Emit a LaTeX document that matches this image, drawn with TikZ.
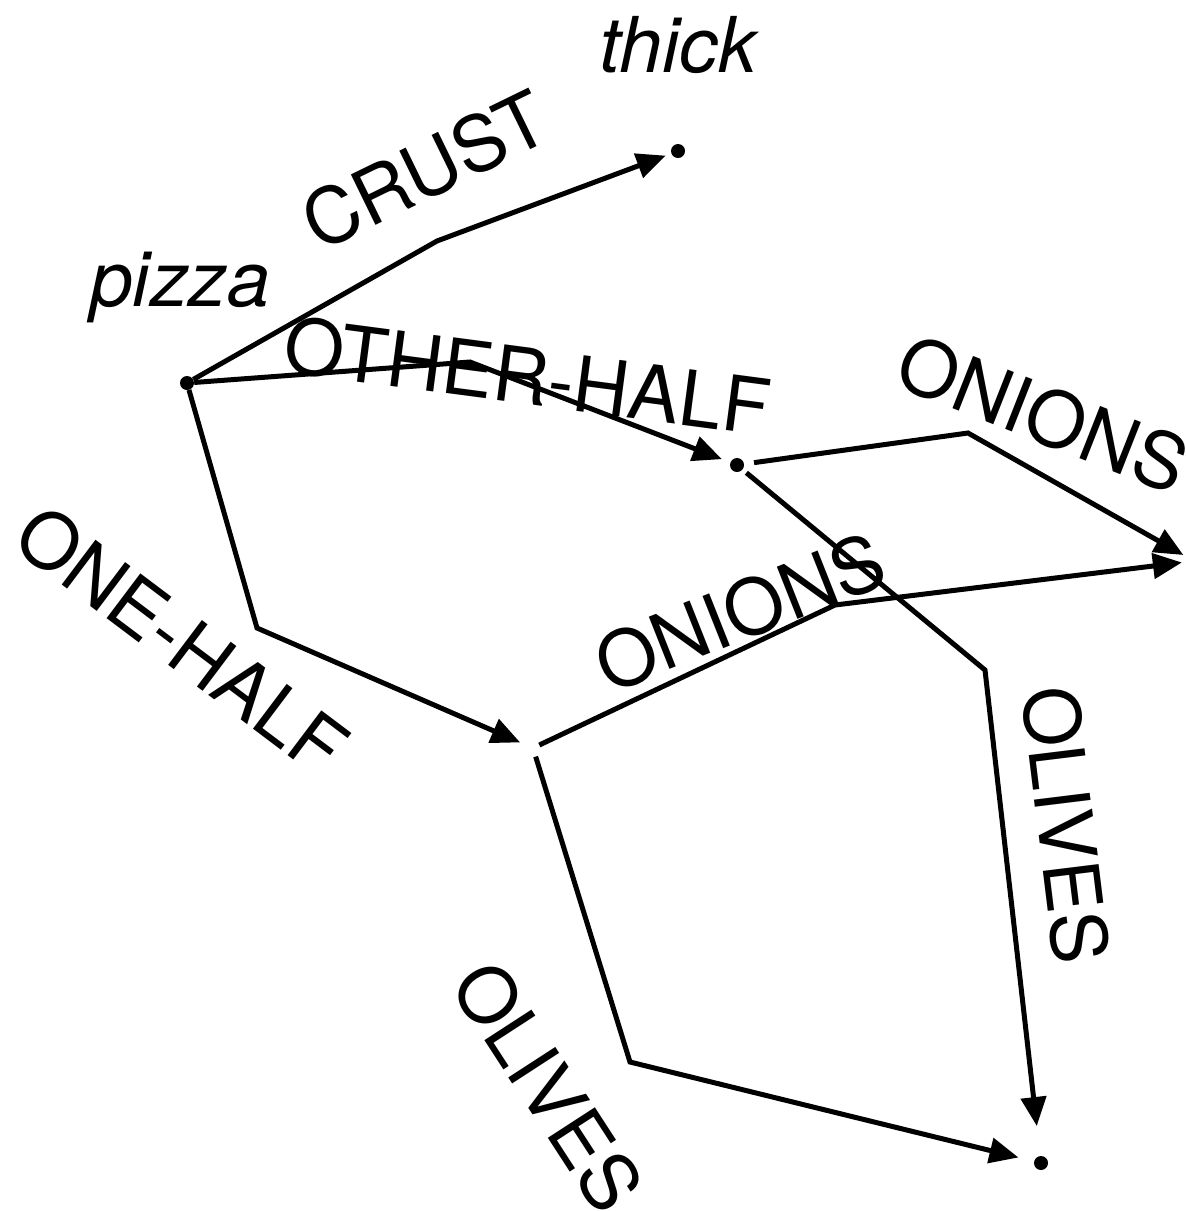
\documentclass[tikz,border=0pt]{standalone}
\usepackage{fontspec}
\setmainfont{TeX Gyre Heros}
\usetikzlibrary{arrows.meta}

\tikzset{
  dot/.style={circle,fill,inner sep=0pt,minimum size=14pt},
  edge/.style={line width=5pt,-{Triangle[length=29pt,width=25pt]},line join=miter},
  lbl/.style={font=\fontsize{77}{90}\selectfont,inner sep=0pt},
}

\begin{document}
\begin{tikzpicture}[x=1pt,y=-1pt]
\useasboundingbox (0,0) rectangle (1186,1211);

% --- states ---
\foreach \n/\x/\y in {pizza/187/383, thick/678/151, other/737/465,
                      onions/1194/561, olives/1041/1163}
  \node[dot] (\n) at (\x,\y) {};
\coordinate (one) at (533,748);

% --- bends of the edges ---
\foreach \n/\x/\y in {b1/437/241, b2/470/362, b3/257/628, b4/968/433,
                      b5/985/670, b6/835/605, b7/630/1062}
  \coordinate (\n) at (\x,\y);

% --- edges ---
\draw[edge,shorten >=6pt] (pizza) -- (b1) -- (thick);
\draw[edge,shorten >=9pt] (pizza) -- (b2) -- (other);
\draw[edge,shorten >=14pt] (pizza) -- (b3) -- (one);
\draw[edge,shorten <=10pt,shorten >=5pt] (other) -- (b4) -- (onions);
\draw[edge,shorten <=5pt,shorten >=30pt] (other) -- (b5) -- (olives);
\draw[edge,shorten <=7pt,shorten >=5pt] (one) -- (b6) -- (onions);
\draw[edge,shorten <=9pt,shorten >=16pt] (one) -- (b7) -- (olives);

% --- labels ---
\node[lbl] (pizzalbl) at (180,287) {\itshape pizza};
\node[lbl] (thicklbl) at (678,45) {\itshape thick};
\foreach \x/\y/\a/\t [count=\i] in {425/170/26/CRUST, 527/376/-7.5/OTHER-HALF,
    182/640/-37/ONE-HALF, 1043/414/-21.5/ONIONS, 740/612/21.6/ONIONS,
    1066/825/-83/OLIVES, 548/1087/-57/OLIVES}
  \node[lbl,rotate=\a] (lab\i) at (\x,\y) {\t};

\end{tikzpicture}
\end{document}
